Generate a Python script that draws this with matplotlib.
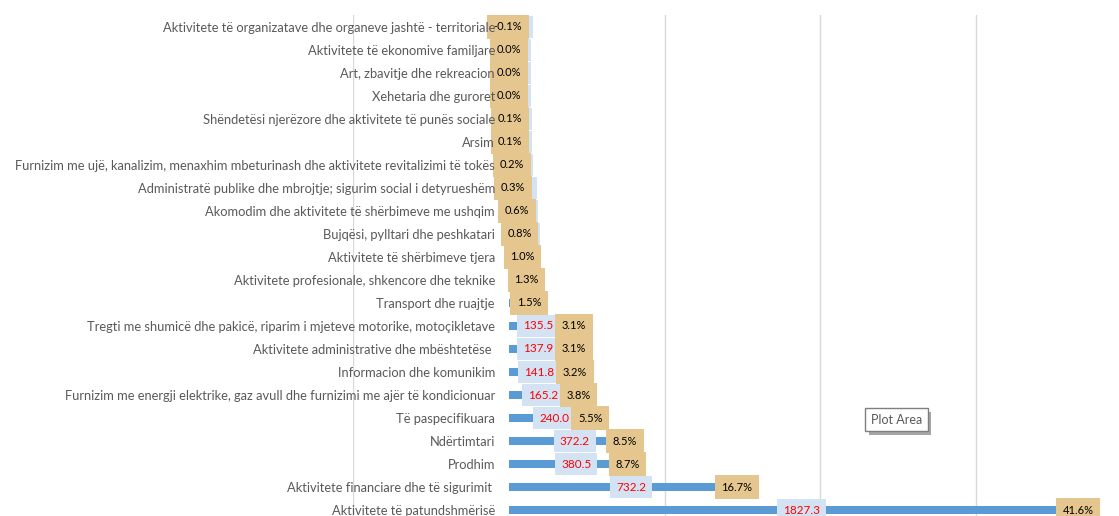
import matplotlib.pyplot as plt

# Categories listed top to bottom as in the chart
categories = [
    "Aktivitete të organizatave dhe organeve jashtë - territoriale",
    "Aktivitete të ekonomive familjare",
    "Art, zbavitje dhe rekreacion",
    "Xehetaria dhe guroret",
    "Shëndetësi njerëzore dhe aktivitete të punës sociale",
    "Arsim",
    "Furnizim me ujë, kanalizim, menaxhim mbeturinash dhe aktivitete revitalizimi të tokës",
    "Administratë publike dhe mbrojtje; sigurim social i detyrueshëm",
    "Akomodim dhe aktivitete të shërbimeve me ushqim",
    "Bujqësi, pylltari dhe peshkatari",
    "Aktivitete të shërbimeve tjera",
    "Aktivitete profesionale, shkencore dhe teknike",
    "Transport dhe ruajtje",
    "Tregti me shumicë dhe pakicë, riparim i mjeteve motorike, motoçikletave",
    "Aktivitete administrative dhe mbështetëse ",
    "Informacion dhe komunikim",
    "Furnizim me energji elektrike, gaz avull dhe furnizimi me ajër të kondicionuar",
    "Të paspecifikuara",
    "Ndërtimtari",
    "Prodhim",
    "Aktivitete financiare dhe të sigurimit ",
    "Aktivitete të patundshmërisë",
]
values = [-3.0, 0.5, 1.5, 1.8, 4.0, 5.0, 9.5, 13.0, 26.0, 34.0, 44.0, 57.0, 66.0,
          135.5, 137.9, 141.8, 165.2, 240.0, 372.2, 380.5, 732.2, 1827.3]
shares = [-0.1, 0.0, 0.0, 0.0, 0.1, 0.1, 0.2, 0.3, 0.6, 0.8, 1.0, 1.3, 1.5,
          3.1, 3.1, 3.2, 3.8, 5.5, 8.5, 8.7, 16.7, 41.6]

BLUE = "#5B9BD5"
TAN = "#E4C68E"
VALBOX = "#D3E3F4"
GRAY = "#595959"

plt.rcParams["font.family"] = ["Lato", "DejaVu Sans"]

fig = plt.figure(figsize=(11.19, 5.16), dpi=100)
ax = fig.add_axes([353 / 1119, 0, (1132 - 353) / 1119, 501 / 516])
# category names sit at the zero line, not at the plot edge
ax.spines["left"].set_position(("data", 0))

n = len(categories)
ypos = [n - 1 - k for k in range(n)]

# vertical gridlines (no line at zero)
for gx in [-500, 500, 1000, 1500]:
    ax.axvline(gx, color="#D9D9D9", lw=1, zorder=0)

ax.barh(ypos, values, height=0.36, color=BLUE, zorder=2)

for y, v, p in zip(ypos, values, shares):
    # value label sits around the middle of the bar
    vx = v / 2 + 26
    ax.text(vx, y, f"{v:.1f}", ha="center", va="center", fontsize=8.5, color="#FF0000",
            zorder=3, bbox=dict(boxstyle="square,pad=0.5", fc=VALBOX, ec="none"))
    # share label centred on the bar end, pushed right if it would cover the value
    px = max(v, vx + 115) if v >= 100 else v
    ax.text(px, y, f"{p:.1f}%", ha="center", va="center", fontsize=8, color="black",
            zorder=4, bbox=dict(boxstyle="square,pad=0.6", fc=TAN, ec="none"))

ax.set_xlim(-500, 2000)
ax.set_ylim(-0.26, 21.52)
ax.set_yticks(ypos)
ax.set_yticklabels(categories)
ax.tick_params(axis="y", length=0, pad=10, labelsize=9.3, labelcolor=GRAY)
ax.set_xticks([])
ax.yaxis.set_zorder(10)  # category names drawn over the label boxes
for s in ax.spines.values():
    s.set_visible(False)

# Excel "Plot Area" hover tip
ax.text(0.702, 0.185, "Plot Area", transform=ax.transAxes, ha="center", va="center",
        fontsize=9, color=(0, 0, 0, 0), zorder=5,
        bbox=dict(boxstyle="square,pad=0.45", fc="#A6A6A6", ec="none"))
ax.text(0.698, 0.192, "Plot Area", transform=ax.transAxes, ha="center", va="center",
        fontsize=9, color=GRAY, zorder=6,
        bbox=dict(boxstyle="square,pad=0.45", fc="white", ec="#7F7F7F", lw=1))

fig.savefig("out.png", dpi=100)
